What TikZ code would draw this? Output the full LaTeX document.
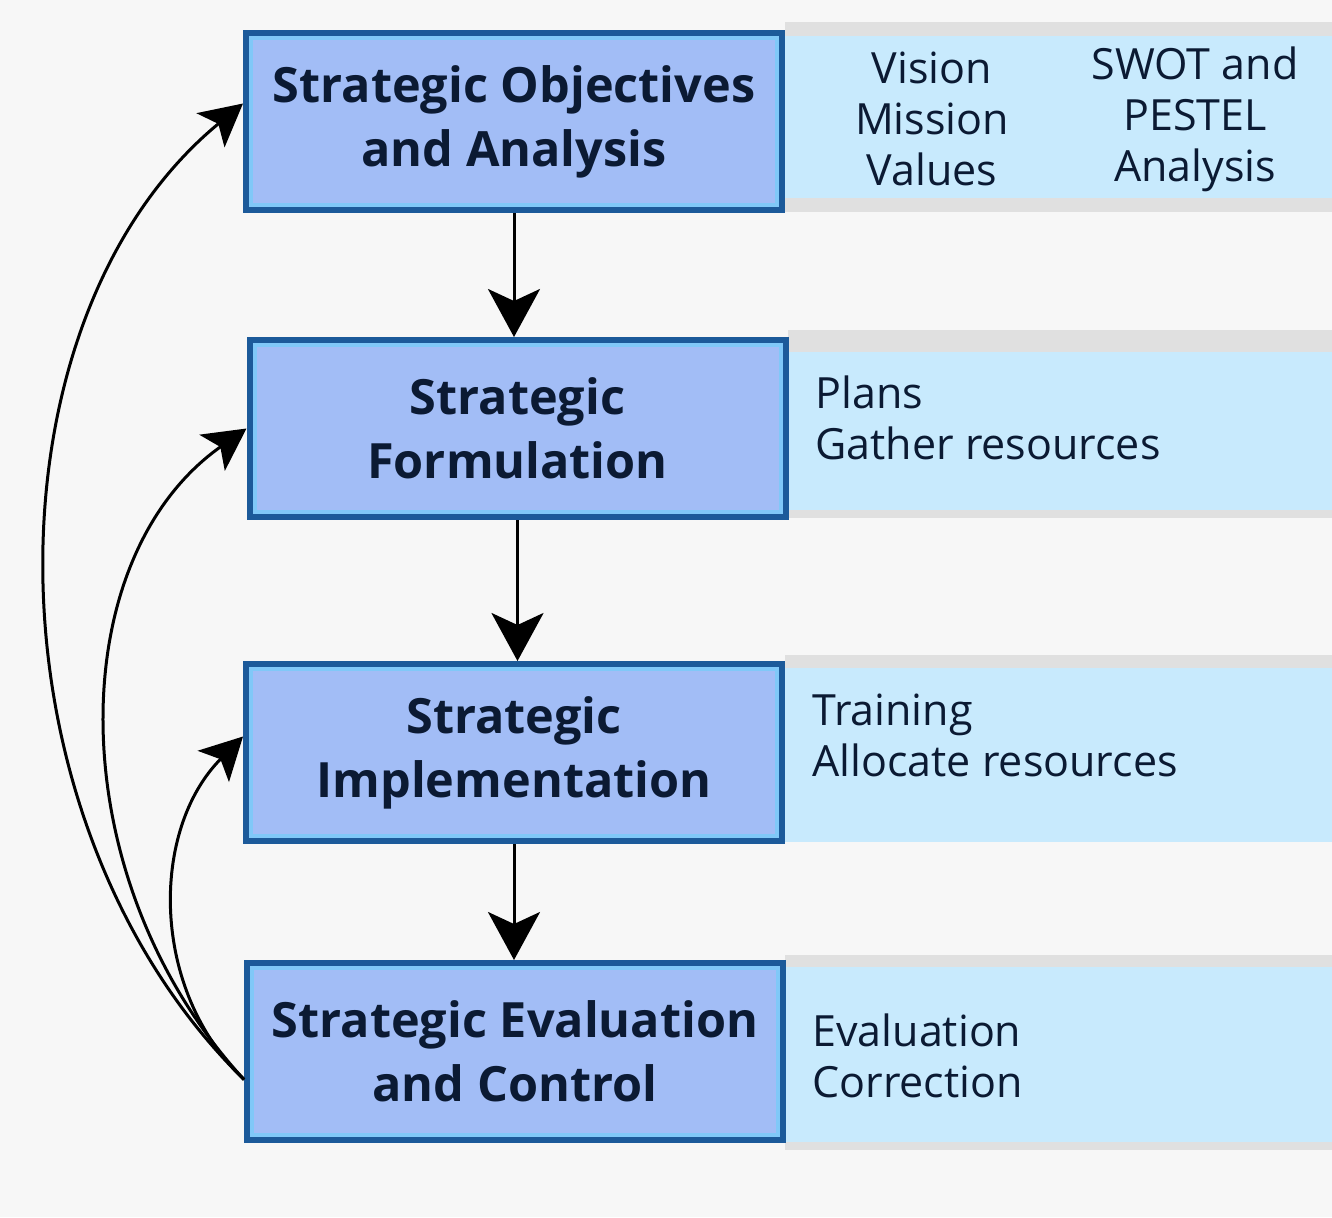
\documentclass[tikz,border=0pt]{standalone}
\usepackage{fontspec}
\setmainfont{Open Sans}
\usetikzlibrary{arrows.meta}
\definecolor{bg}{HTML}{F7F7F7}
\definecolor{boxdark}{HTML}{1C5A9A}
\definecolor{boxfill}{HTML}{A2BDF6}
\definecolor{boxinner}{HTML}{80C8F8}
\definecolor{bandfill}{HTML}{C8EAFD}
\definecolor{bandshade}{HTML}{E0E0E0}
\definecolor{txt}{HTML}{0B1A33}
\tikzset{
  stage/.style={draw=boxdark, line width=4pt, fill=boxfill, minimum width=267pt,
    minimum height=87.5pt, inner sep=0pt, align=center, text=txt,
    font=\fontsize{24.3}{32}\selectfont\bfseries},
  innerline/.style={draw=boxinner, line width=2pt},
  band/.style={fill=bandfill},
  shade/.style={fill=bandshade},
  info/.style={inner sep=0pt, text=txt, font=\fontsize{21.5}{25.5}\selectfont},
  arr/.style={-{Stealth[length=24pt,width=26pt,inset=6pt]}, line width=1.5pt, black},
  farr/.style={-{Stealth[length=21pt,width=22pt,inset=5pt]}, line width=1.5pt, black},
}
\begin{document}
\begin{tikzpicture}[x=0.5pt,y=-0.5pt]
\useasboundingbox[fill=bg] (0,0) rectangle (1332,1217);
% side bands
\fill[shade] (785,22) rectangle (1332,36);
\fill[band] (785,36) rectangle (1332,198);
\fill[shade] (785,198) rectangle (1332,212);
\fill[shade] (788,330) rectangle (1332,352);
\fill[band] (788,352) rectangle (1332,510);
\fill[shade] (788,510) rectangle (1332,518);
\fill[shade] (785,655) rectangle (1332,668);
\fill[band] (785,668) rectangle (1332,842);
\fill[shade] (785,955) rectangle (1332,967);
\fill[band] (785,967) rectangle (1332,1142);
\fill[shade] (785,1142) rectangle (1332,1150);
% boxes
\node[stage] (b1) at (514,121.5) {Strategic Objectives\\and Analysis};
\node[stage] (b2) at (517.5,428.5) {Strategic\\Formulation};
\node[stage] (b3) at (514,752.5) {Strategic\\Implementation};
\node[stage] (b4) at (515,1051.5) {Strategic Evaluation\\and Control};
\foreach \b in {b1,b2,b3,b4}{
  \draw[innerline] ([shift={(4pt,-4pt)}]\b.north west) rectangle ([shift={(-4pt,4pt)}]\b.south east);
}
% info texts
\node[info, align=center] (i1a) at (932,119) {Vision\\Mission\\Values};
\node[info, align=center] (i1b) at (1195,119) {SWOT and\\PESTEL\\Analysis};
\node[info, align=left, anchor=west] (i2) at (815,417.5) {Plans\\Gather resources};
\node[info, align=left, anchor=west] (i3) at (812,735) {Training\\Allocate resources};
\node[info, align=left, anchor=west] (i4) at (812,1055.5) {Evaluation\\Correction};
% main flow
\draw[arr] (b1.south) -- (b1.south |- b2.north);
\draw[arr] (b2.south) -- (b2.south |- b3.north);
\draw[arr] (b3.south) -- (b3.south |- b4.north);
% feedback
\coordinate (fb) at ([yshift=-14pt]b4.west);
\draw[farr] (fb) .. controls (-20,820) and (-20,320) .. ([yshift=9pt]b1.west);
\draw[farr] (fb) .. controls (60,880) and (60,560) .. (b2.west);
\draw[farr] (fb) .. controls (150,990) and (150,830) .. ([yshift=8pt]b3.west);
\end{tikzpicture}
\end{document}
